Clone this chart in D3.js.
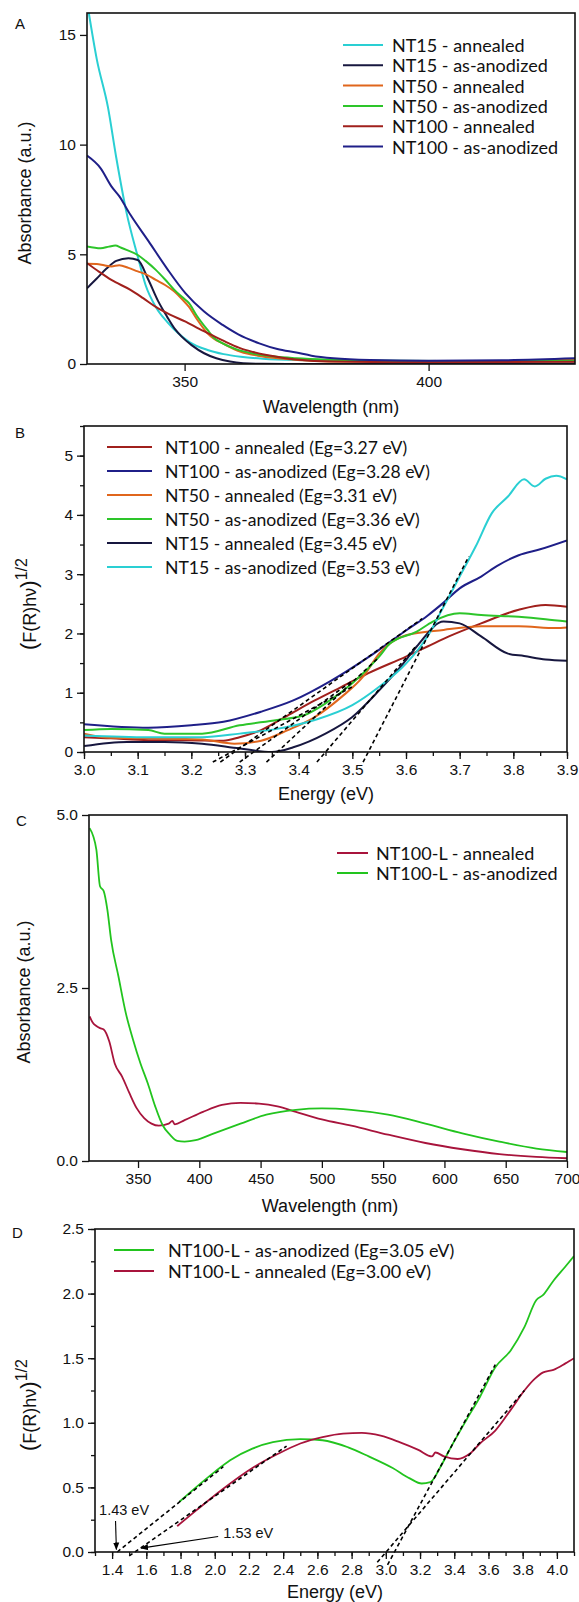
<!DOCTYPE html>
<html>
<head>
<meta charset="utf-8">
<script src="https://cdn.jsdelivr.net/npm/d3@7"></script>
<style>
  html, body { margin: 0; padding: 0; background: #fff; }
  svg { display: block; }
</style>
</head>
<body>
<div id="chart"></div>
<script>
// ---------- Panel A: absorbance vs wavelength ----------
const aNT15Annealed = [[330.3,16.1],[332,13.9],[334.3,11.7],[336,9.4],[338.1,6.9],[340.4,4.9],[342,3.6],[344.1,2.6],[346.5,1.9],[348.7,1.4],[351,1.0],[354.7,0.64],[358,0.45],[361.5,0.33],[366,0.24],[372.9,0.18],[385,0.15],[400,0.14],[415,0.14],[430,0.15]];
const aNT15Anodized = [[330,3.45],[332,3.9],[334,4.35],[336,4.7],[338.5,4.82],[340.4,4.74],[342.6,3.83],[344.5,2.9],[346.4,2.16],[348,1.6],[349.4,1.25],[351.5,0.85],[354,0.49],[356.5,0.26],[359.3,0.11],[362,0.04],[366,0.01],[380,0],[400,0.01],[430,0.02]];
const aNT50Annealed = [[330,4.57],[332,4.56],[333.5,4.5],[335,4.45],[336.6,4.5],[338.5,4.38],[340.4,4.22],[342,4.1],[344.1,3.83],[346,3.6],[347.9,3.3],[349.5,2.95],[350.9,2.6],[352.5,2.05],[354.7,1.4],[356,1.15],[357.8,0.94],[361.5,0.56],[365,0.38],[369.1,0.26],[375,0.16],[380.5,0.11],[400,0.1],[415,0.12],[422,0.17],[430,0.23]];
const aNT50Anodized = [[330,5.36],[332.8,5.28],[334.5,5.35],[335.8,5.4],[337,5.3],[338.1,5.2],[340.4,4.97],[342,4.7],[344.1,4.29],[346,3.85],[347.9,3.38],[349.5,3.05],[350.9,2.77],[352.5,2.2],[354.7,1.55],[356,1.2],[357.8,0.94],[360.5,0.68],[363.8,0.49],[368,0.35],[372.9,0.26],[380,0.19],[388,0.15],[410,0.13],[430,0.15]];
const aNT100Annealed = [[330,4.6],[332.5,4.2],[335,3.83],[338.9,3.38],[341.5,3.0],[344.1,2.6],[347,2.25],[350.2,1.93],[353,1.6],[356.2,1.25],[359,0.95],[361.5,0.71],[364,0.55],[366.8,0.41],[370,0.29],[372.9,0.21],[380.5,0.11],[395,0.08],[430,0.1]];
const aNT100Anodized = [[330,9.5],[332.8,8.92],[335,8.1],[336.6,7.65],[338.9,6.8],[342.6,5.6],[346.4,4.35],[350.2,3.22],[354,2.39],[357.8,1.78],[361,1.35],[365.3,0.94],[369,0.68],[372.9,0.52],[376,0.38],[380.5,0.26],[388,0.18],[400,0.15],[415,0.17],[430,0.26]];
const aLegend = ["NT15 - annealed","NT15 - as-anodized","NT50 - annealed","NT50 - as-anodized","NT100 - annealed","NT100 - as-anodized"];

// ---------- Panel B: Tauc plot ----------
const bNT100Annealed = [[3.0,0.25],[3.05,0.23],[3.12,0.2],[3.19,0.2],[3.26,0.19],[3.29,0.25],[3.33,0.37],[3.38,0.62],[3.43,0.87],[3.48,1.1],[3.53,1.33],[3.6,1.61],[3.64,1.78],[3.68,1.95],[3.74,2.17],[3.81,2.4],[3.86,2.48],[3.9,2.45]];
const bNT100Anodized = [[3.0,0.47],[3.12,0.41],[3.2,0.45],[3.26,0.51],[3.33,0.68],[3.39,0.87],[3.46,1.2],[3.53,1.6],[3.6,2.05],[3.64,2.3],[3.67,2.52],[3.7,2.76],[3.74,2.96],[3.77,3.14],[3.81,3.32],[3.85,3.42],[3.9,3.57]];
const bNT50Annealed = [[3.0,0.31],[3.05,0.24],[3.12,0.23],[3.22,0.21],[3.28,0.14],[3.33,0.19],[3.38,0.37],[3.43,0.59],[3.48,0.93],[3.52,1.27],[3.55,1.66],[3.6,1.97],[3.67,2.06],[3.74,2.12],[3.81,2.12],[3.88,2.09],[3.9,2.1]];
const bNT50Anodized = [[3.0,0.37],[3.05,0.39],[3.12,0.37],[3.15,0.31],[3.22,0.31],[3.29,0.45],[3.36,0.54],[3.41,0.62],[3.45,0.82],[3.5,1.16],[3.55,1.61],[3.57,1.83],[3.62,2.03],[3.65,2.2],[3.7,2.34],[3.74,2.31],[3.81,2.28],[3.86,2.24],[3.9,2.2]];
const bNT15Annealed = [[3.0,0.1],[3.08,0.17],[3.15,0.17],[3.22,0.14],[3.29,0.06],[3.35,0.0],[3.39,0.08],[3.45,0.31],[3.5,0.59],[3.55,1.04],[3.59,1.44],[3.62,1.78],[3.67,2.2],[3.7,2.17],[3.74,1.95],[3.79,1.66],[3.82,1.62],[3.86,1.56],[3.9,1.54]];
const bNT15Anodized = [[3.0,0.28],[3.12,0.25],[3.22,0.25],[3.29,0.31],[3.36,0.39],[3.43,0.54],[3.5,0.79],[3.55,1.1],[3.6,1.49],[3.64,1.95],[3.67,2.45],[3.7,2.96],[3.73,3.47],[3.76,4.03],[3.79,4.31],[3.82,4.6],[3.84,4.48],[3.86,4.61],[3.88,4.66],[3.9,4.6]];
const bLegend = ["NT100 - annealed (Eg=3.27 eV)","NT100 - as-anodized (Eg=3.28 eV)","NT50 - annealed (Eg=3.31 eV)","NT50 - as-anodized (Eg=3.36 eV)","NT15 - annealed (Eg=3.45 eV)","NT15 - as-anodized (Eg=3.53 eV)"];
// tangent lines: [x0, y0, x1, y1]
const bFits = [[3.24,-0.17,3.5,1.1],[3.254,-0.17,3.63,2.25],[3.29,-0.17,3.5,1.2],[3.34,-0.17,3.55,1.6],[3.434,-0.17,3.62,1.8],[3.52,-0.17,3.717,3.3]];

// ---------- Panel C: absorbance, long tubes ----------
const cNT100LAnnealed = [[310.5,2.09],[313,2.0],[316,1.95],[319,1.92],[322,1.9],[326.5,1.73],[331,1.41],[337,1.22],[343,0.98],[349,0.76],[355,0.62],[361,0.54],[367,0.51],[375,0.54],[378,0.58],[380,0.53],[388,0.59],[403,0.71],[418.5,0.81],[433.6,0.84],[448.7,0.83],[463.8,0.79],[478.8,0.71],[500,0.6],[524,0.51],[554,0.38],[584.5,0.26],[614.6,0.17],[644.8,0.1],[675,0.06],[700,0.04]];
const cNT100LAnodized = [[310.5,4.81],[316,4.5],[319,3.97],[322,3.9],[325,3.63],[328,3.2],[334,2.67],[340,2.14],[346,1.75],[352,1.41],[358,1.12],[364,0.79],[370,0.52],[376,0.38],[382,0.29],[388,0.28],[397,0.3],[412,0.4],[433.6,0.54],[454.7,0.67],[478.8,0.74],[500,0.76],[524,0.74],[554,0.67],[584.5,0.54],[614.6,0.4],[644.8,0.28],[675,0.18],[700,0.13]];
const cLegend = ["NT100-L - annealed","NT100-L - as-anodized"];

// ---------- Panel D: Tauc plot, long tubes ----------
const dNT100LAnodized = [[1.795,0.39],[1.89,0.5],[2.0,0.62],[2.09,0.71],[2.22,0.8],[2.34,0.85],[2.5,0.873],[2.63,0.865],[2.78,0.81],[2.9,0.74],[3.04,0.65],[3.14,0.57],[3.21,0.53],[3.26,0.54],[3.32,0.66],[3.38,0.81],[3.47,1.02],[3.55,1.2],[3.64,1.43],[3.73,1.56],[3.81,1.74],[3.88,1.95],[3.92,1.99],[3.98,2.1],[4.05,2.21],[4.1,2.29]];
const dNT100LAnnealed = [[1.78,0.2],[1.89,0.32],[2.04,0.48],[2.22,0.65],[2.37,0.76],[2.5,0.84],[2.63,0.89],[2.75,0.917],[2.86,0.922],[2.97,0.9],[3.08,0.85],[3.19,0.79],[3.27,0.74],[3.29,0.77],[3.34,0.74],[3.42,0.72],[3.49,0.76],[3.55,0.84],[3.64,0.94],[3.73,1.1],[3.81,1.25],[3.87,1.34],[3.92,1.39],[3.98,1.41],[4.05,1.46],[4.1,1.5]];
const dLegend = ["NT100-L - as-anodized (Eg=3.05 eV)","NT100-L - annealed (Eg=3.00 eV)"];
const dFits = [[1.43,0,2.05,0.66],[1.5,-0.03,2.42,0.82],[3.01,-0.1,3.64,1.45],[2.95,-0.08,3.81,1.25]];
const dNotes = [
  { text: "1.43 eV", tx: 1.47, ty: 0.29, x0: 1.42, y0: 0.24, x1: 1.425, y1: 0.02 },
  { text: "1.53 eV", tx: 2.05, ty: 0.11, x0: 2.02, y0: 0.12, x1: 1.57, y1: 0.03 }
];

const FONT = "'Liberation Sans', Arial, sans-serif";
const LEG_FONT = "Lato, 'Open Sans', sans-serif";

const svg = d3.select("#chart").append("svg")
  .attr("width", 579).attr("height", 1602);
svg.append("rect").attr("width", 579).attr("height", 1602).attr("fill", "#fff");

const defs = svg.append("defs");
defs.append("marker").attr("id", "arrow")
  .attr("viewBox", "0 0 10 10").attr("refX", 9).attr("refY", 5)
  .attr("markerWidth", 7).attr("markerHeight", 7).attr("orient", "auto")
  .append("path").attr("d", "M0,1 L10,5 L0,9 z").attr("fill", "#000");

function drawPanel(p, idx) {
  const x = d3.scaleLinear().domain(p.xDomain).range([p.box.l, p.box.r]);
  const y = d3.scaleLinear().domain(p.yDomain).range([p.box.b, p.box.t]);
  const g = svg.append("g");

  // clip curves to plot area
  defs.append("clipPath").attr("id", "clip" + idx)
    .append("rect").attr("x", p.box.l).attr("y", p.box.t)
    .attr("width", p.box.r - p.box.l).attr("height", p.box.b - p.box.t);

  const line = d3.line().x(d => x(d[0])).y(d => y(d[1])).curve(d3.curveMonotoneX);

  g.append("g").attr("clip-path", `url(#clip${idx})`)
    .selectAll("path").data(p.series).enter().append("path")
    .attr("d", s => line(s.data))
    .attr("fill", "none")
    .attr("stroke", s => s.color)
    .attr("stroke-width", p.lineWidth || 2)
    .attr("stroke-linejoin", "round");

  // dashed tangent lines
  if (p.fits) {
    g.selectAll(".fit").data(p.fits).enter().append("line")
      .attr("x1", d => x(d[0])).attr("y1", d => y(d[1]))
      .attr("x2", d => x(d[2])).attr("y2", d => y(d[3]))
      .attr("stroke", "#000").attr("stroke-width", 1.6)
      .attr("stroke-dasharray", "4,3");
  }

  // minor ticks
  if (p.xMinor) {
    g.append("g").attr("transform", `translate(0,${p.box.b})`)
      .call(d3.axisBottom(x).tickValues(p.xMinor).tickSize(4).tickFormat(""))
      .call(a => a.select(".domain").remove());
  }
  if (p.yMinor) {
    g.append("g").attr("transform", `translate(${p.box.l},0)`)
      .call(d3.axisLeft(y).tickValues(p.yMinor).tickSize(4).tickFormat(""))
      .call(a => a.select(".domain").remove());
  }
  // major ticks
  const xAxis = g.append("g").attr("transform", `translate(0,${p.box.b})`)
    .call(d3.axisBottom(x).tickValues(p.xTicks).tickSize(7).tickPadding(5).tickFormat(d3.format(p.xFormat)));
  const yAxis = g.append("g").attr("transform", `translate(${p.box.l},0)`)
    .call(d3.axisLeft(y).tickValues(p.yTicks).tickSize(7).tickPadding(4).tickFormat(d3.format(p.yFormat)));
  [xAxis, yAxis].forEach(a => {
    a.select(".domain").remove();
    a.selectAll("text").attr("font-family", FONT).attr("font-size", 15.5).attr("fill", "#111");
  });
  g.selectAll(".tick line").attr("stroke", "#111").attr("stroke-width", 1.3);

  // frame
  g.append("rect").attr("x", p.box.l).attr("y", p.box.t)
    .attr("width", p.box.r - p.box.l).attr("height", p.box.b - p.box.t)
    .attr("fill", "none").attr("stroke", "#111").attr("stroke-width", 1.6);

  // legend
  const lg = g.append("g");
  p.series.forEach((s, i) => {
    const yy = p.legend.y + i * p.legend.dy;
    lg.append("line").attr("x1", p.legend.x0).attr("x2", p.legend.x1)
      .attr("y1", yy).attr("y2", yy).attr("stroke", s.color).attr("stroke-width", 2);
    lg.append("text").attr("x", p.legend.tx).attr("y", yy)
      .attr("dominant-baseline", "central")
      .attr("font-family", LEG_FONT).attr("font-size", p.legend.size || 18).attr("fill", "#111")
      .text(s.name);
  });

  // notes with arrows
  (p.notes || []).forEach(n => {
    g.append("line").attr("x1", x(n.x0)).attr("y1", y(n.y0)).attr("x2", x(n.x1)).attr("y2", y(n.y1))
      .attr("stroke", "#000").attr("stroke-width", 1.1).attr("marker-end", "url(#arrow)");
    g.append("text").attr("x", x(n.tx)).attr("y", y(n.ty))
      .attr("text-anchor", n.tx < 1.6 ? "middle" : "start")
      .attr("font-family", FONT).attr("font-size", 14.5).attr("fill", "#111").text(n.text);
  });

  // panel letter
  g.append("text").attr("x", p.letter[1]).attr("y", p.letter[2])
    .attr("font-family", FONT).attr("font-size", 15).attr("fill", "#111").text(p.letter[0]);

  // x title
  g.append("text").attr("x", p.xTitle[1]).attr("y", p.xTitle[2]).attr("text-anchor", "middle")
    .attr("font-family", FONT).attr("font-size", 18).attr("fill", "#111").text(p.xTitle[0]);

  // y title
  const yt = g.append("text")
    .attr("transform", `translate(${p.yTitle[1]},${p.yTitle[2]}) rotate(-90)`)
    .attr("text-anchor", "middle")
    .attr("font-family", FONT).attr("font-size", 18).attr("fill", "#111");
  if (p.yTitle[0] === "tauc") {
    yt.append("tspan").attr("font-size", 22).text("(");
    yt.append("tspan").text("F(R)hν");
    yt.append("tspan").attr("font-size", 22).text(")");
    yt.append("tspan").attr("font-size", 16).attr("dy", -9).text("1/2");
  } else {
    yt.text(p.yTitle[0]);
  }
}

drawPanel({
  box: { l: 87, r: 575, t: 13, b: 364 },
  xDomain: [330, 430], yDomain: [0, 16],
  xTicks: [350, 400], yTicks: [0, 5, 10, 15], xFormat: "d", yFormat: "d",
  series: [
    { data: aNT15Annealed, color: "#2ACFD3", name: aLegend[0] },
    { data: aNT15Anodized, color: "#17173F", name: aLegend[1] },
    { data: aNT50Annealed, color: "#E0661C", name: aLegend[2] },
    { data: aNT50Anodized, color: "#2DC52A", name: aLegend[3] },
    { data: aNT100Annealed, color: "#A0201C", name: aLegend[4] },
    { data: aNT100Anodized, color: "#1F1F88", name: aLegend[5] }
  ],
  legend: { x0: 343, x1: 383, tx: 392, y: 45, dy: 20.3 },
  letter: ["A", 15, 29],
  xTitle: ["Wavelength (nm)", 331, 413],
  yTitle: ["Absorbance (a.u.)", 31, 193]
}, 0);

drawPanel({
  box: { l: 84, r: 567, t: 426, b: 752 },
  xDomain: [3.0, 3.9], yDomain: [0, 5.5],
  xTicks: d3.range(0, 10).map(i => 3.0 + i * 0.1),
  xMinor: d3.range(0, 19).map(i => 3.0 + i * 0.05),
  yTicks: [0, 1, 2, 3, 4, 5], yMinor: d3.range(0, 12).map(i => i * 0.5),
  xFormat: ".1f", yFormat: "d",
  series: [
    { data: bNT100Annealed, color: "#A0201C", name: bLegend[0] },
    { data: bNT100Anodized, color: "#1F1F88", name: bLegend[1] },
    { data: bNT50Annealed, color: "#E0661C", name: bLegend[2] },
    { data: bNT50Anodized, color: "#2DC52A", name: bLegend[3] },
    { data: bNT15Annealed, color: "#17173F", name: bLegend[4] },
    { data: bNT15Anodized, color: "#2ACFD3", name: bLegend[5] }
  ],
  fits: bFits,
  legend: { x0: 107, x1: 152, tx: 165, y: 447, dy: 24, size: 17.6 },
  letter: ["B", 15, 438],
  xTitle: ["Energy (eV)", 326, 800],
  yTitle: ["tauc", 36, 604]
}, 1);

drawPanel({
  box: { l: 89, r: 567, t: 815, b: 1161 },
  xDomain: [310, 700], yDomain: [0, 5],
  xTicks: d3.range(350, 701, 50), yTicks: [0, 2.5, 5],
  xFormat: "d", yFormat: ".1f",
  lineWidth: 1.8,
  series: [
    { data: cNT100LAnnealed, color: "#A8143C", name: cLegend[0] },
    { data: cNT100LAnodized, color: "#22C41E", name: cLegend[1] }
  ],
  legend: { x0: 337, x1: 368, tx: 376, y: 853, dy: 20 },
  letter: ["C", 16, 826],
  xTitle: ["Wavelength (nm)", 330, 1212],
  yTitle: ["Absorbance (a.u.)", 30, 992]
}, 2);

drawPanel({
  box: { l: 95, r: 574, t: 1229, b: 1552 },
  xDomain: [1.3, 4.1], yDomain: [0, 2.5],
  xTicks: d3.range(0, 14).map(i => 1.4 + i * 0.2),
  xMinor: d3.range(0, 29).map(i => 1.3 + i * 0.1),
  yTicks: d3.range(0, 6).map(i => i * 0.5), yMinor: d3.range(0, 11).map(i => i * 0.25),
  xFormat: ".1f", yFormat: ".1f",
  lineWidth: 1.8,
  series: [
    { data: dNT100LAnodized, color: "#22C41E", name: dLegend[0] },
    { data: dNT100LAnnealed, color: "#A8143C", name: dLegend[1] }
  ],
  fits: dFits,
  notes: dNotes,
  legend: { x0: 114, x1: 154, tx: 168, y: 1250, dy: 21 },
  letter: ["D", 12, 1238],
  xTitle: ["Energy (eV)", 335, 1598],
  yTitle: ["tauc", 36, 1405]
}, 3);
</script>
</body>
</html>
